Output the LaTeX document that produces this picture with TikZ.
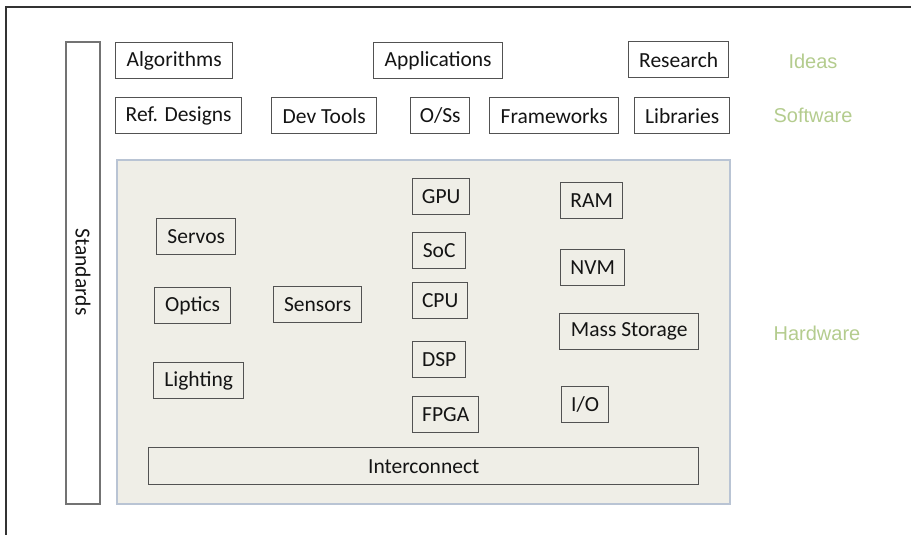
\documentclass[tikz,border=0pt]{standalone}
\usepackage{fontspec}
\setmainfont{Carlito}
\newfontfamily\labelfont{Liberation Sans}
\definecolor{layergreen}{RGB}{180,204,142}
\definecolor{hwfill}{RGB}{239,238,231}
\definecolor{hwedge}{RGB}{185,196,212}
\tikzset{
	box/.style={draw=black!68, line width=1.4pt, anchor=north west, minimum height=36, inner sep=0pt, font=\fontsize{21.5}{25}\selectfont, text=black!92},
	layer/.style={text=layergreen, font=\labelfont\fontsize{20}{24}\selectfont}
}
\begin{document}
\begin{tikzpicture}[x=1pt, y=-1pt]
		\useasboundingbox (0,0) rectangle (911,535);
		\draw[black!80, line width=1.5pt] (6,535) -- (6,7) -- (911,7);
		% standards bar and hardware panel
		\draw[black!55, line width=1.3pt, fill=white] (66,42) rectangle (100,504);
		\node[rotate=-90, font=\fontsize{21.5}{25}\selectfont, text=black!92] (std) at (83,272) {Standards};
		\draw[hwedge, line width=1.2pt, fill=hwfill] (117,160) rectangle (730,504);
		% ideas
		\node[box, minimum width=117] (alg) at (115,42) {Algorithms};
		\node[box, minimum width=129] (app) at (373,42) {Applications};
		\node[box, minimum width=100] (res) at (628,41) {Research};
		% software
		\node[box, minimum width=126] (ref) at (115,97) {Ref. Designs};
		\node[box, minimum width=105] (dev) at (271,97) {Dev Tools};
		\node[box, minimum width=59] (os) at (410,97) {O/Ss};
		\node[box, minimum width=129] (fw) at (489,97) {Frameworks};
		\node[box, minimum width=95] (lib) at (634,97) {Libraries};
		% hardware
		\node[box, minimum width=79] (servos) at (156,218) {Servos};
		\node[box, minimum width=76] (optics) at (154,287) {Optics};
		\node[box, minimum width=90] (light) at (153,362) {Lighting};
		\node[box, minimum width=88] (sensors) at (273,286) {Sensors};
		\node[box, minimum width=57] (gpu) at (412,178) {GPU};
		\node[box, minimum width=53] (soc) at (412,232) {SoC};
		\node[box, minimum width=55] (cpu) at (412,282) {CPU};
		\node[box, minimum width=53] (dsp) at (412,341) {DSP};
		\node[box, minimum width=66] (fpga) at (412,396) {FPGA};
		\node[box, minimum width=62] (ram) at (560,182) {RAM};
		\node[box, minimum width=64] (nvm) at (560,249) {NVM};
		\node[box, minimum width=139] (mass) at (559,313) {Mass Storage};
		\node[box, minimum width=47] (io) at (561,386) {I/O};
		\node[box, minimum width=550, minimum height=37] (inter) at (148,447) {Interconnect};
		% layer names
		\node[layer] (ideas) at (813,61) {Ideas};
		\node[layer] (sw) at (813,115) {Software};
		\node[layer] (hw) at (817,333) {Hardware};
	\end{tikzpicture}
\end{document}
